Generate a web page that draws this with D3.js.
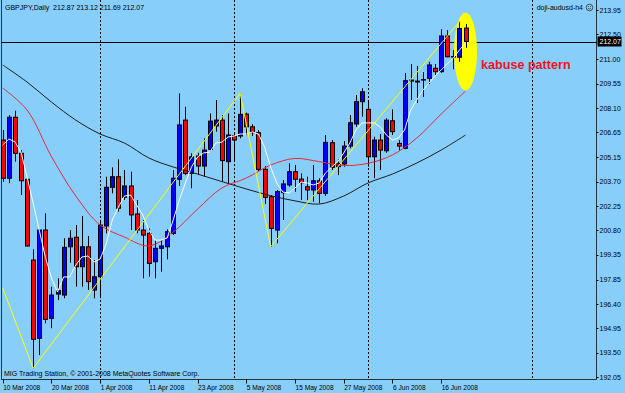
<!DOCTYPE html>
<html lang="en">
<head>
<meta charset="utf-8">
<title>GBPJPY Daily</title>
<script src="https://d3js.org/d3.v7.min.js"></script>
<style>
  body { margin: 0; background: #87cefa; }
  svg { display: block; }
  text { font-family: "Liberation Sans", Arial, sans-serif; }
</style>
</head>
<body>
<script>
// candles, one entry per daily bar (10 Mar 2008 .. 20 Jun 2008)
var opens  = [206.19,203.91,207.55,205.40,203.85,199.03,194.36,200.82,195.55,197.00,
              196.94,199.82,200.39,198.63,199.82,197.24,198.03,201.06,203.37,204.00,
              202.77,203.45,201.78,200.82,200.62,198.93,199.73,199.82,200.62,203.85,
              207.38,204.20,205.24,204.64,205.64,207.03,207.38,204.90,206.45,206.43,
              207.74,206.98,206.63,204.44,202.81,200.82,203.05,203.51,204.30,203.86,
              203.40,203.21,203.76,203.01,206.03,204.60,204.76,205.83,207.15,208.48,
              208.02,205.19,206.19,205.55,207.34,205.99,205.70,209.77,209.71,209.77,
              209.87,210.47,210.27,212.40,211.14,211.13,212.87];
var highs  = [206.79,207.68,207.94,205.59,203.91,199.67,200.86,201.82,197.44,197.94,
              200.33,200.82,201.12,201.66,200.46,199.03,201.42,204.00,204.56,205.04,
              204.40,204.30,202.61,201.42,200.92,200.22,200.22,200.86,204.40,208.98,
              208.18,205.40,205.43,206.29,207.78,208.58,207.68,207.78,206.59,208.98,
              207.82,207.13,206.79,204.64,202.91,203.21,203.80,204.80,204.70,204.20,
              204.00,204.70,203.91,206.49,206.19,205.04,206.13,207.68,208.88,209.28,
              208.48,206.39,206.55,207.49,208.02,206.19,210.19,210.73,210.61,210.25,
              210.86,210.73,212.80,212.75,211.56,213.25,213.12];
var lows   = [203.70,203.61,204.90,202.91,199.82,192.57,193.36,195.25,194.96,196.64,
              196.75,198.87,197.44,197.44,197.24,196.75,196.75,200.62,203.01,201.91,
              202.61,200.82,200.62,197.94,198.03,197.94,198.33,199.07,200.52,203.45,
              204.10,203.31,204.10,204.00,205.49,206.69,203.70,203.61,204.90,206.29,
              206.49,206.43,204.34,202.37,199.82,200.03,201.42,203.40,203.11,202.61,
              202.61,202.51,202.41,202.85,204.40,204.10,204.60,205.70,206.98,207.58,
              204.60,203.91,204.40,205.43,206.49,205.55,205.64,208.58,208.40,208.76,
              209.53,210.07,210.21,211.13,210.41,210.86,211.69];
var closes = [203.91,207.55,205.40,203.76,199.87,194.30,200.82,195.49,196.94,197.20,
              199.79,200.33,198.63,199.82,197.74,198.03,201.12,203.37,204.00,202.12,
              203.45,201.72,200.82,200.52,198.83,199.73,199.87,200.72,203.91,207.09,
              204.20,205.19,204.64,205.59,207.32,207.38,204.96,206.49,206.19,207.72,
              206.98,206.63,204.44,202.77,200.92,203.11,203.57,204.30,203.85,203.64,
              203.21,203.76,203.01,206.05,204.56,204.80,205.83,207.22,208.48,209.07,
              205.19,206.19,205.59,207.38,206.69,205.83,209.73,209.71,209.65,209.80,
              210.67,210.27,212.40,211.16,211.17,212.85,212.07];

// fast moving average (white), one value per bar
var fastMA = [205.89,206.25,206.09,205.49,203.98,202.43,200.82,199.21,197.96,197.12,
              198.02,198.02,198.73,199.21,199.27,198.91,199.09,199.99,201.42,202.19,
              202.85,202.91,202.31,201.72,200.82,200.22,200.22,200.34,201.42,202.61,
              203.63,204.58,205.18,205.42,205.47,206.01,206.07,206.37,206.43,206.55,
              206.55,206.67,206.55,205.77,204.58,203.63,203.09,203.03,203.33,203.68,
              203.63,203.51,203.63,204.22,204.58,204.88,205.42,206.01,206.79,207.21,
              207.21,207.21,206.97,206.49,206.19,206.31,206.79,207.98,208.58,209.17,
              209.59,210.01,210.37,210.73,211.08,211.56,211.98];

// slow averages, read every 4 bars
var maIndex = [0,4,8,12,16,20,24,28,32,36,40,44,48,52,56,60,64,68,72,76];
var redMA   = [209.29,207.98,205.21,202.85,201.12,200.40,199.87,200.70,202.07,203.33,
               203.92,204.70,205.09,204.90,204.67,204.80,205.30,206.31,207.74,209.11];
var blackMA = [210.67,209.65,208.46,207.38,206.55,206.01,205.12,204.58,204.16,203.71,
               203.27,202.87,202.56,202.37,202.85,203.63,204.16,204.82,205.59,206.49];

// zigzag pivots
var zigIndex = [0, 5, 39, 44, 75];
var zigPrice = [197.36, 192.57, 208.98, 199.82, 213.25];

// monthly separators (bar index)
var separators = [16, 38, 60, 87];

var dateIndex  = [0, 8, 16, 24, 32, 40, 48, 56, 64, 72];
var dateLabels = ["10 Mar 2008","20 Mar 2008","1 Apr 2008","11 Apr 2008","23 Apr 2008",
                  "5 May 2008","15 May 2008","27 May 2008","6 Jun 2008","16 Jun 2008"];

var priceTicks = ["213.95","212.50","211.00","209.55","208.10","206.65","205.15","203.70",
                  "202.25","200.80","199.35","197.85","196.40","194.95","193.50","192.05"];

var lastPrice = 212.07;

// ellipse drawn round the last bars: centre bar, centre price
var markBar = 76, markPrice = 211.47;

var w = 625, h = 393;
var left = 1.5, right = 596.5, bottom = 379.5;

var x = d3.scaleLinear().domain([0, 76]).range([2.7, 465.5]);
var y = d3.scaleLinear().domain([192.05, 213.95]).range([377, 10]);

var svg = d3.select("body").append("svg")
    .attr("width", w)
    .attr("height", h);

svg.append("rect").attr("width", w).attr("height", h).attr("fill", "#87cefa");

var plot = svg.append("g");

// period separators
plot.selectAll(".sep")
    .data(separators)
    .enter().append("line")
    .attr("x1", function(d) { return Math.round(x(d)) + 0.5; })
    .attr("x2", function(d) { return Math.round(x(d)) + 0.5; })
    .attr("y1", 0)
    .attr("y2", bottom)
    .attr("stroke", "#000")
    .attr("stroke-dasharray", "2,2");

// bid line
plot.append("line")
    .attr("x1", left).attr("x2", right)
    .attr("y1", Math.round(y(lastPrice)) + 0.5)
    .attr("y2", Math.round(y(lastPrice)) + 0.5)
    .attr("stroke", "#000");

// the yellow ellipse marking the pattern
plot.append("ellipse")
    .attr("cx", x(markBar))
    .attr("cy", y(markPrice))
    .attr("rx", 11.5)
    .attr("ry", 39)
    .attr("fill", "#ffff00");

// candles
var bars = d3.range(opens.length);

plot.selectAll(".wick")
    .data(bars)
    .enter().append("line")
    .attr("x1", function(i) { return Math.round(x(i)) + 0.5; })
    .attr("x2", function(i) { return Math.round(x(i)) + 0.5; })
    .attr("y1", function(i) { return y(highs[i]); })
    .attr("y2", function(i) { return y(lows[i]); })
    .attr("stroke", "#000");

plot.selectAll(".body")
    .data(bars)
    .enter().append("rect")
    .attr("x", function(i) { return Math.round(x(i)) - 1.5; })
    .attr("width", 4)
    .attr("y", function(i) { return y(Math.max(opens[i], closes[i])); })
    .attr("height", function(i) { return Math.max(0.5, Math.abs(y(opens[i]) - y(closes[i]))); })
    .attr("fill", function(i) { return closes[i] >= opens[i] ? "#0000ff" : "#ff0000"; })
    .attr("stroke", "#000")
    .attr("stroke-width", 1);

// moving averages
var line = d3.line().curve(d3.curveCatmullRom);

plot.append("path")
    .attr("d", line(maIndex.map(function(d, k) { return [x(d), y(blackMA[k])]; })))
    .attr("fill", "none")
    .attr("stroke", "#1c1c1c");

plot.append("path")
    .attr("d", line(maIndex.map(function(d, k) { return [x(d), y(redMA[k])]; })))
    .attr("fill", "none")
    .attr("stroke", "#e8283a");

plot.append("path")
    .attr("d", d3.line()(fastMA.map(function(d, k) { return [x(k), y(d)]; })))
    .attr("fill", "none")
    .attr("stroke", "#ffffff");

// zigzag
plot.append("path")
    .attr("d", d3.line()(zigIndex.map(function(d, k) { return [x(d), y(zigPrice[k])]; })))
    .attr("fill", "none")
    .attr("stroke", "#ffff00");

// frame
svg.append("path")
    .attr("d", "M" + left + ",0V" + bottom + "H" + right + "V0")
    .attr("fill", "none")
    .attr("stroke", "#000")
    .attr("stroke-opacity", 0.75);

// price axis
svg.selectAll(".ptick")
    .data(priceTicks)
    .enter().append("line")
    .attr("x1", right).attr("x2", right + 2)
    .attr("y1", function(d) { return Math.round(y(+d)) + 0.5; })
    .attr("y2", function(d) { return Math.round(y(+d)) + 0.5; })
    .attr("stroke", "#000");

svg.selectAll(".plabel")
    .data(priceTicks)
    .enter().append("text")
    .attr("x", 599.5)
    .attr("y", function(d) { return y(+d) + 2.5; })
    .attr("font-size", "7px")
    .attr("fill", "#000")
    .text(function(d) { return d; });

svg.append("rect")
    .attr("x", 597.5)
    .attr("y", y(lastPrice) - 5)
    .attr("width", 24)
    .attr("height", 10)
    .attr("fill", "#000");

svg.append("text")
    .attr("x", 599.5)
    .attr("y", y(lastPrice) + 2.5)
    .attr("font-size", "7px")
    .attr("fill", "#fff")
    .text(lastPrice.toFixed(2));

// time axis
svg.selectAll(".dtick")
    .data(dateIndex)
    .enter().append("line")
    .attr("x1", function(d) { return Math.round(x(d)) + 0.5; })
    .attr("x2", function(d) { return Math.round(x(d)) + 0.5; })
    .attr("y1", bottom)
    .attr("y2", bottom + 4)
    .attr("stroke", "#000");

svg.selectAll(".dlabel")
    .data(dateIndex)
    .enter().append("text")
    .attr("x", function(d) { return x(d) + 0.5; })
    .attr("y", 389.5)
    .attr("font-size", "6.6px")
    .attr("fill", "#000")
    .text(function(d, k) { return dateLabels[k]; });

// texts
svg.append("text")
    .attr("x", 5).attr("y", 10)
    .attr("font-size", "7px")
    .text("GBPJPY,Daily  212.87 213.12 211.69 212.07")
    .attr("xml:space", "preserve")
    .style("white-space", "pre");

svg.append("text")
    .attr("x", 4).attr("y", 376)
    .attr("font-size", "7px")
    .text("MIG Trading Station, \u00a9 2001-2008 MetaQuotes Software Corp.");

svg.append("text")
    .attr("x", 583).attr("y", 10)
    .attr("font-size", "7px")
    .attr("text-anchor", "end")
    .text("doji-audusd-h4");

// little smiley of the expert advisor
var smile = svg.append("g").attr("transform", "translate(589.5,7.5)");
smile.append("circle").attr("r", 3.3).attr("fill", "none").attr("stroke", "#333").attr("stroke-width", 0.8);
smile.append("path").attr("d", "M-1.6,0.6 Q0,2.4 1.6,0.6").attr("fill", "none").attr("stroke", "#333").attr("stroke-width", 0.7);
smile.append("circle").attr("cx", -1.1).attr("cy", -1).attr("r", 0.5).attr("fill", "#333");
smile.append("circle").attr("cx", 1.1).attr("cy", -1).attr("r", 0.5).attr("fill", "#333");

svg.append("text")
    .attr("x", 481).attr("y", 68.5)
    .attr("font-size", "12.6px")
    .attr("font-weight", "bold")
    .attr("fill", "#f0141e")
    .text("kabuse pattern");
</script>
</body>
</html>
